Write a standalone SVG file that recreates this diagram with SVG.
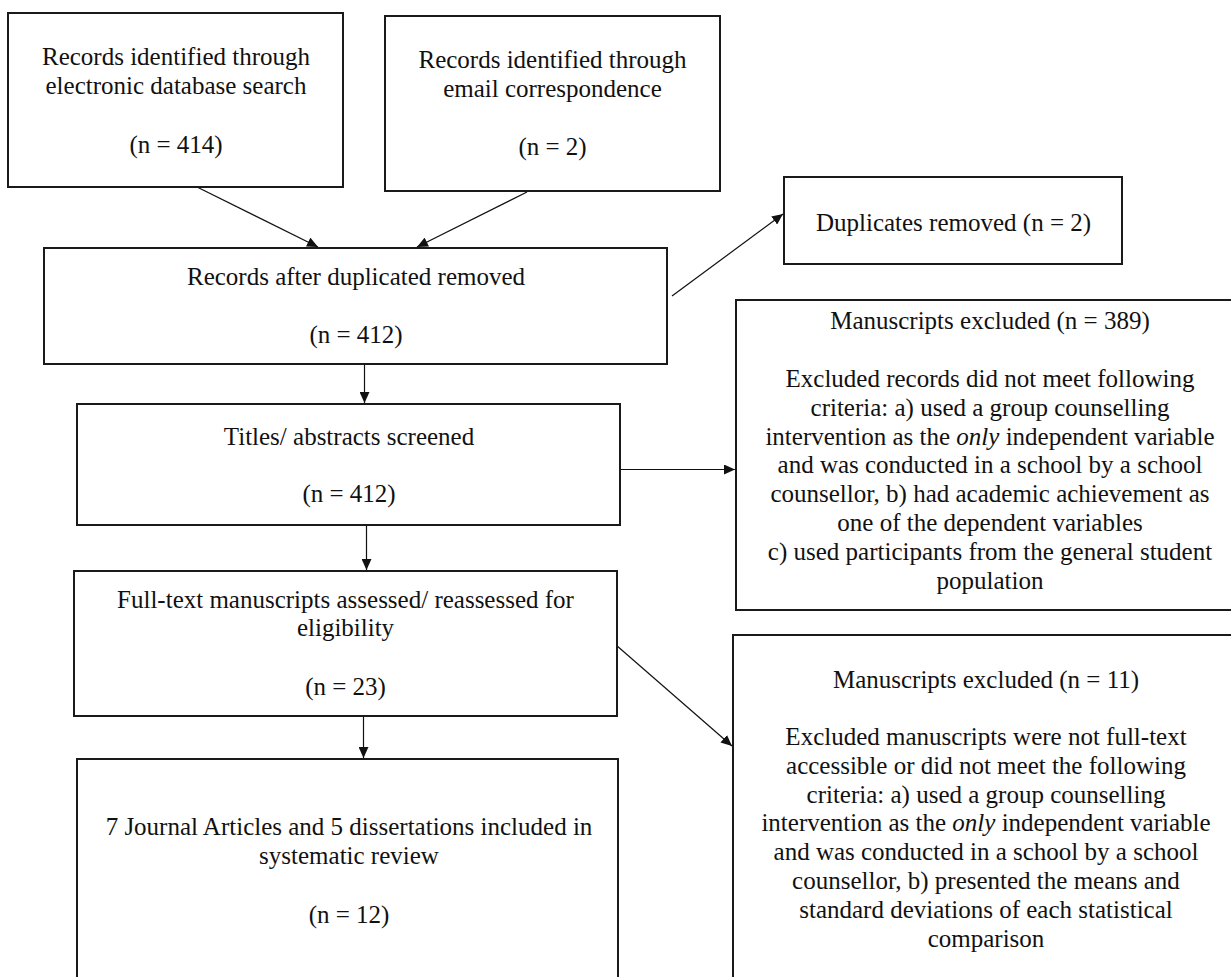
<svg xmlns="http://www.w3.org/2000/svg" width="1231" height="977" viewBox="0 0 1231 977">
<style>
.box{fill:#fff;stroke:#1a1a1a;stroke-width:2}
.t{font-family:'Liberation Serif',Tinos,'Times New Roman','DejaVu Serif',serif;font-size:25px;fill:#111;text-anchor:middle}
.c{stroke:#111;stroke-width:1.2;fill:none;marker-end:url(#ah)}
</style>
<defs>
<marker id="ah" markerUnits="userSpaceOnUse" markerWidth="11" markerHeight="10" refX="11" refY="5" orient="auto">
<path d="M0,0 L11,5 L0,10 z" fill="#111"/>
</marker>
</defs>
<rect width="1231" height="977" fill="#fff"/>
<g id="connectors">
<line class="c" x1="197" y1="187" x2="318" y2="247"/>
<line class="c" x1="527" y1="192" x2="417" y2="247"/>
<line class="c" x1="672" y1="296" x2="783" y2="214"/>
<line class="c" x1="364.5" y1="365" x2="364.5" y2="403"/>
<line class="c" x1="618" y1="469.5" x2="735" y2="469.5"/>
<line class="c" x1="366.5" y1="526" x2="366.5" y2="570"/>
<line class="c" x1="616" y1="645" x2="732" y2="746"/>
<line class="c" x1="363.5" y1="717" x2="363.5" y2="758"/>
</g>
<g id="n1">
<rect class="box" x="8" y="13" width="335" height="174"/>
<text class="t" x="176" y="65" font-family="Liberation Serif">Records identified through</text>
<text class="t" x="176" y="94">electronic database search</text>
<text class="t" x="176" y="153">(n = 414)</text>
</g>
<g id="n2">
<rect class="box" x="385" y="16" width="335" height="175"/>
<text class="t" x="552.5" y="68">Records identified through</text>
<text class="t" x="552.5" y="97">email correspondence</text>
<text class="t" x="552.5" y="155">(n = 2)</text>
</g>
<g id="n3">
<rect class="box" x="44" y="248" width="623" height="116"/>
<text class="t" x="356" y="285">Records after duplicated removed</text>
<text class="t" x="356" y="343">(n = 412)</text>
</g>
<g id="n4">
<rect class="box" x="784" y="177" width="338" height="87"/>
<text class="t" x="953.5" y="231">Duplicates removed (n = 2)</text>
</g>
<g id="n5">
<rect class="box" x="736" y="300" width="509" height="310"/>
<text class="t" x="990" y="329">Manuscripts excluded (n = 389)</text>
<text class="t" x="990" y="387">Excluded records did not meet following</text>
<text class="t" x="990" y="415.5">criteria: a) used a group counselling</text>
<text class="t" x="990" y="444.5">intervention as the <tspan font-style="italic">only</tspan> independent variable</text>
<text class="t" x="990" y="473">and was conducted in a school by a school</text>
<text class="t" x="990" y="502">counsellor, b) had academic achievement as</text>
<text class="t" x="990" y="531">one of the dependent variables</text>
<text class="t" x="990" y="560">c) used participants from the general student</text>
<text class="t" x="990" y="588.5">population</text>
</g>
<g id="n6">
<rect class="box" x="77" y="404" width="543" height="121"/>
<text class="t" x="349" y="444.5">Titles/ abstracts screened</text>
<text class="t" x="349" y="502">(n = 412)</text>
</g>
<g id="n7">
<rect class="box" x="74" y="571" width="543" height="145"/>
<text class="t" x="345.5" y="607.5">Full-text manuscripts assessed/ reassessed for</text>
<text class="t" x="345.5" y="636">eligibility</text>
<text class="t" x="345.5" y="695">(n = 23)</text>
</g>
<g id="n8">
<rect class="box" x="733" y="635" width="508" height="350"/>
<text class="t" x="986" y="687.5">Manuscripts excluded (n = 11)</text>
<text class="t" x="986" y="745">Excluded manuscripts were not full-text</text>
<text class="t" x="986" y="773.5">accessible or did not meet the following</text>
<text class="t" x="986" y="802.5">criteria: a) used a group counselling</text>
<text class="t" x="986" y="831">intervention as the <tspan font-style="italic">only</tspan> independent variable</text>
<text class="t" x="986" y="860">and was conducted in a school by a school</text>
<text class="t" x="986" y="889">counsellor, b) presented the means and</text>
<text class="t" x="986" y="917.5">standard deviations of each statistical</text>
<text class="t" x="986" y="946.5">comparison</text>
</g>
<g id="n9">
<rect class="box" x="77" y="759" width="541" height="226"/>
<text class="t" x="349" y="835">7 Journal Articles and 5 dissertations included in</text>
<text class="t" x="349" y="863.5">systematic review</text>
<text class="t" x="349" y="923">(n = 12)</text>
</g>
</svg>
